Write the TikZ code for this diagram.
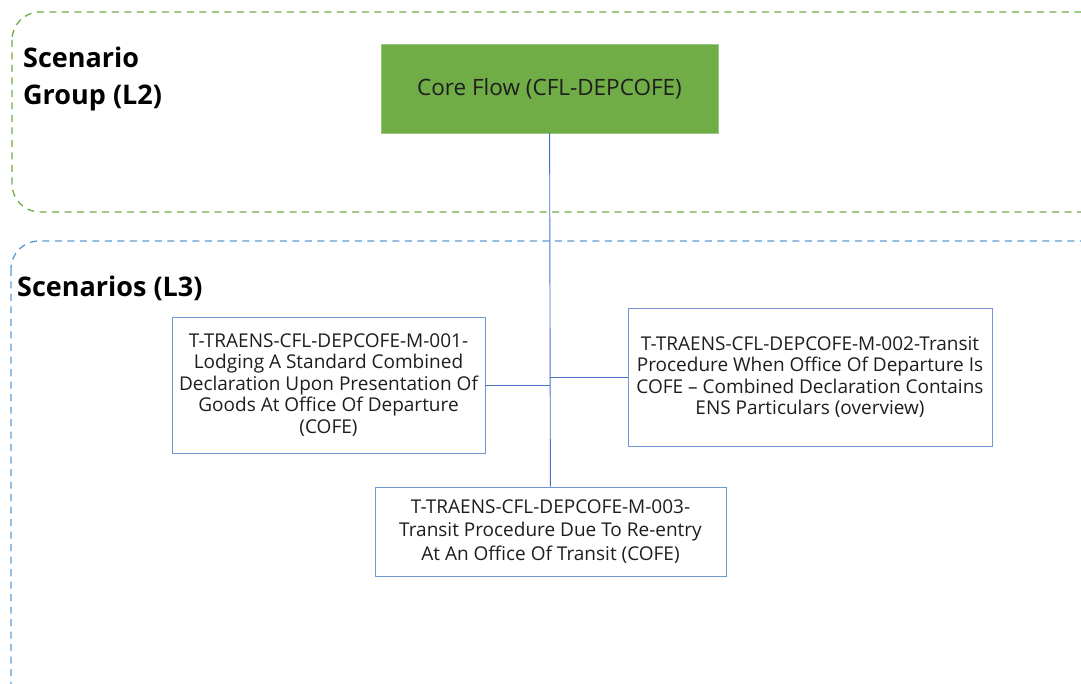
\documentclass[tikz,border=0pt]{standalone}
\usepackage{fontspec}
\setmainfont{Open Sans}
\usetikzlibrary{positioning}
\definecolor{grpgreen}{RGB}{112,173,71}
\definecolor{scnblue}{RGB}{91,155,213}
\definecolor{linkblue}{RGB}{68,114,196}
\definecolor{txtgray}{RGB}{30,30,30}

\begin{document}
\begin{tikzpicture}[
		x=1pt, y=-1pt,
		every node/.style={
				font=\fontsize{19}{21.5}\selectfont,
				text=txtgray,
				align=center,
				inner sep=0pt
			},
		scenbox/.style={draw=linkblue!75, line width=0.9pt, fill=white},
		grpframe/.style={dash pattern=on 7pt off 5.5pt, line width=1.3pt, rounded corners=28pt},
		heading/.style={anchor=base west, align=left, text=black, font=\fontsize{27}{37}\selectfont\bfseries}
	]
	\useasboundingbox (0,0) rectangle (1081,684);
	\clip (0,0) rectangle (1081,684);

	\draw[grpframe, draw=grpgreen] (12,12) rectangle (1110,212);
	\draw[grpframe, draw=scnblue] (11,241) rectangle (1110,712);

	\node[heading] (lbltwo) at (23,105) {Scenario\\Group (L2)};
	\node[heading] (lblthree) at (17,297) {Scenarios (L3)};

	\node[fill=grpgreen, draw=grpgreen!70, minimum width=337pt, minimum height=89pt,
		font=\fontsize{22.5}{26}\selectfont] (core) at (549.5,88.5) {Core Flow (CFL-DEPCOFE)};

	\node[scenbox, minimum width=313pt, minimum height=136pt] (scn1) at (328.5,385)
		{T-TRAENS-CFL-DEPCOFE-M-001-\\Lodging A Standard Combined\\Declaration Upon Presentation Of\\Goods At Office Of Departure\\(COFE)};
	\node[scenbox, minimum width=364pt, minimum height=138pt] (scn2) at (810,377)
		{T-TRAENS-CFL-DEPCOFE-M-002-Transit\\Procedure When Office Of Departure Is\\COFE -- Combined Declaration Contains\\ENS Particulars (overview)};
	\node[scenbox, minimum width=351pt, minimum height=89pt, font=\fontsize{19}{23.5}\selectfont] (scn3) at (550.5,531.5)
		{T-TRAENS-CFL-DEPCOFE-M-003-\\Transit Procedure Due To Re-entry\\At An Office Of Transit (COFE)};

	\draw[linkblue, line width=0.9pt] (core) -- (scn3);
	\draw[linkblue, line width=0.9pt] (scn1) -- (scn1 -| core);
	\draw[linkblue, line width=0.9pt] (scn2 -| core) -- (scn2);
\end{tikzpicture}
\end{document}
